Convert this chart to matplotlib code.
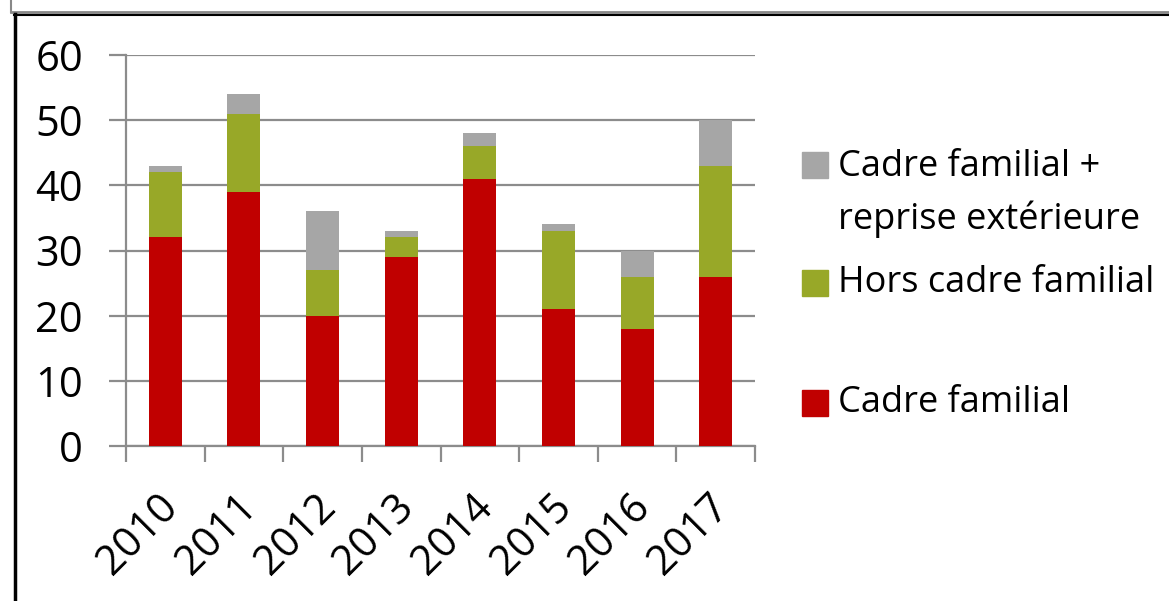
import numpy as np
import matplotlib
matplotlib.use("Agg")
import matplotlib.pyplot as plt
import matplotlib.transforms as mtransforms
from matplotlib.lines import Line2D
from matplotlib.patches import Rectangle

years = ["2010", "2011", "2012", "2013", "2014", "2015", "2016", "2017"]
cadre_familial = [32, 39, 20, 29, 41, 21, 18, 26]
hors_cadre = [10, 12, 7, 3, 5, 12, 8, 17]
cadre_reprise = [1, 3, 9, 1, 2, 1, 4, 7]

labels = ["Cadre familial", "Hors cadre familial", "Cadre familial +\nreprise extérieure"]
colors = ["#C00000", "#98A828", "#A6A6A6"]
y_ticks = [0, 10, 20, 30, 40, 50, 60]

plt.rcParams["font.family"] = ["Open Sans", "DejaVu Sans"]

W, H = 1169, 601
fig = plt.figure(figsize=(W / 100, H / 100), dpi=100)
ax = fig.add_axes([126 / W, 1 - 446 / H, (755 - 126) / W, (446 - 55) / H])

x = np.arange(len(years))
bottom = np.zeros(len(years))
for vals, col in zip([cadre_familial, hors_cadre, cadre_reprise], colors):
    ax.bar(x, vals, width=0.42, bottom=bottom, color=col, zorder=3)
    bottom += np.array(vals)

grid_col = "#8C8C8C"
ax.set_xlim(-0.5, len(years) - 0.5)
ax.set_ylim(0, 60)
ax.set_yticks(y_ticks)
ax.set_yticklabels([str(v) for v in y_ticks], fontsize=30)
ax.yaxis.grid(True, color=grid_col, linewidth=1.6, zorder=0)
ax.tick_params(axis="y", length=12, width=1.6, color=grid_col, pad=19)

# category boundary ticks, labels at centers
ax.set_xticks(np.arange(len(years) + 1) - 0.5)
ax.set_xticklabels([])
ax.tick_params(axis="x", which="major", length=11.5, width=1.6, color=grid_col)
ax.set_xticks(x, minor=True)
ax.set_xticklabels(years, minor=True, fontsize=30, rotation=45, ha="right",
                   rotation_mode="anchor")
ax.tick_params(axis="x", which="minor", length=0, pad=29)
shift = mtransforms.ScaledTranslation(-8 / 100, 0, fig.dpi_scale_trans)
for t in ax.get_xticklabels(minor=True):
    t.set_transform(t.get_transform() + shift)

for s in ["top", "right"]:
    ax.spines[s].set_visible(False)
for s in ["left", "bottom"]:
    ax.spines[s].set_color(grid_col)
    ax.spines[s].set_linewidth(1.6)

# legend drawn by hand (Excel-like spacing)
leg_y = [403, 283, 165]
for lab, col, yy in zip(labels, colors, leg_y):
    fig.add_artist(Rectangle((802 / W, 1 - (yy + 13) / H), 26 / W, 26 / H,
                             transform=fig.transFigure, color=col))
    if "\n" in lab:
        fig.text(838 / W, 1 - (yy - 16) / H, lab, fontsize=26, va="top",
                 linespacing=1.53)
    else:
        fig.text(838 / W, 1 - yy / H, lab, fontsize=26, va="center")

# outer frame
fig.add_artist(Line2D([11 / W, 1], [1 - 12 / H, 1 - 12 / H], color="#888888",
                      linewidth=2, transform=fig.transFigure))
fig.add_artist(Line2D([11 / W, 11 / W], [1, 1 - 12 / H], color="#888888",
                      linewidth=1.5, transform=fig.transFigure))
fig.add_artist(Line2D([14 / W, 1], [1 - 14.5 / H, 1 - 14.5 / H], color="black",
                      linewidth=1.5, transform=fig.transFigure))
fig.add_artist(Line2D([14.5 / W, 14.5 / W], [1 - 14 / H, 0], color="black",
                      linewidth=2.5, transform=fig.transFigure))

fig.savefig("out.png", dpi=100)
